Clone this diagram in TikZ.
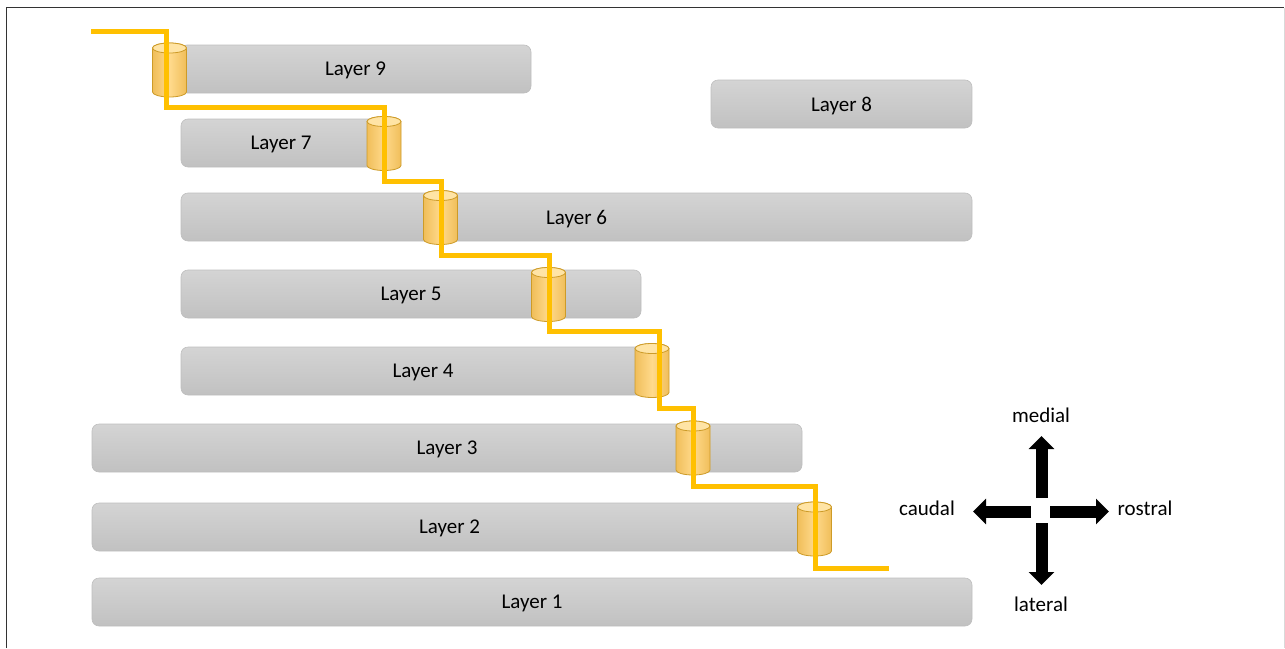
\documentclass[tikz,border=0pt]{standalone}
\usepackage{fontspec}
\setmainfont{Carlito}
\usetikzlibrary{arrows.meta}
\definecolor{barT}{RGB}{212,212,212}
\definecolor{barB}{RGB}{193,193,193}
\definecolor{barE}{RGB}{190,190,190}
\definecolor{cylE}{RGB}{240,190,90}
\definecolor{cylM}{RGB}{255,218,140}
\definecolor{cylT}{RGB}{255,228,165}
\definecolor{cylB}{RGB}{205,155,40}
\definecolor{wire}{RGB}{255,192,0}
\begin{document}
\begin{tikzpicture}[x=1pt,y=-1pt,
  layer/.style={draw=barE, line width=0.6pt, rounded corners=7pt, top color=barT, bottom color=barB,
    minimum height=48pt, inner sep=0pt, text depth=0pt, font=\fontsize{21}{25}\selectfont, text=black},
  lbl/.style={font=\fontsize{21}{25}\selectfont, text=black, inner sep=0pt},
  wirestyle/.style={draw=wire, line width=5pt},
  cmparrow/.style={draw=black, line width=12pt, -{Triangle[width=25pt,length=13pt]}},
  cyl/.pic={
    \shade[left color=cylE, right color=cylE, middle color=cylM, draw=cylB, line width=0.8pt]
      (-17,-22) -- (-17,22) arc[start angle=180,end angle=360,x radius=17pt,y radius=5pt]
      -- (17,-22) arc[start angle=0,end angle=180,x radius=17pt,y radius=5pt] -- cycle;
    \filldraw[fill=cylT, draw=cylB, line width=0.8pt] (0,-22) ellipse[x radius=17pt,y radius=5pt];
  }]
\useasboundingbox (0,0) rectangle (1285,648);
% frame
\draw[draw=black!80, line width=1.5pt] (6.5,648) -- (6.5,7.5) -- (1284,7.5);
\draw[draw=black!15, line width=1pt] (1284,7.5) -- (1284,648);

% layers
\node[layer, minimum width=351pt] (l9) at (355.5,69) {Layer 9};
\node[layer, minimum width=261pt] (l8) at (841.5,104) {Layer 8};
\node[layer, minimum width=209pt] (l7) at (285.5,143) {\hspace*{-9pt}Layer 7};
\node[layer, minimum width=791pt] (l6) at (576.5,217) {Layer 6};
\node[layer, minimum width=460pt] (l5) at (411,294) {Layer 5};
\node[layer, minimum width=484pt] (l4) at (423,371) {Layer 4};
\node[layer, minimum width=710pt] (l3) at (447,448) {Layer 3};
\node[layer, minimum width=723pt] (l2) at (453.5,527) {\hspace*{-8pt}Layer 2};
\node[layer, minimum width=880pt] (l1) at (532,602) {Layer 1};

% cylinders
\pic at (169.5,70) {cyl};
\pic at (384,143.5) {cyl};
\pic at (440.5,217.5) {cyl};
\pic at (548.5,294.5) {cyl};
\pic at (652,370.5) {cyl};
\pic at (693,448) {cyl};
\pic at (814.5,529) {cyl};

% wire
\coordinate (win) at (91,31);
\coordinate (wout) at (889,568);
\draw[wirestyle] (win) -- (166,31) -- (166,107) -- (384,107) -- (384,181) -- (441,181)
  -- (441,255) -- (549,255) -- (549,331) -- (659,331) -- (659,408) -- (693,408)
  -- (693,486) -- (815,486) -- (815,568) -- (wout);

% compass
\coordinate (upS) at (1041.5,498);
\coordinate (upE) at (1041.5,436);
\coordinate (dnS) at (1041.5,523);
\coordinate (dnE) at (1041.5,585);
\coordinate (lfS) at (1031,511.5);
\coordinate (lfE) at (973,511.5);
\coordinate (rtS) at (1050,511.5);
\coordinate (rtE) at (1109,511.5);
\draw[cmparrow] (upS) -- (upE);
\draw[cmparrow] (dnS) -- (dnE);
\draw[cmparrow] (lfS) -- (lfE);
\draw[cmparrow] (rtS) -- (rtE);
\node[lbl] (med) at (1041,415) {medial};
\node[lbl] (lat) at (1041,604) {lateral};
\node[lbl] (cau) at (927,508) {caudal};
\node[lbl] (ros) at (1145,508) {rostral};
\end{tikzpicture}
\end{document}
